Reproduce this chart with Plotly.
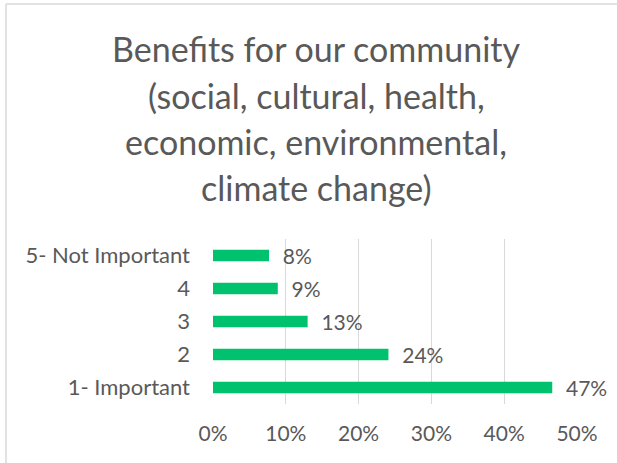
import plotly.graph_objects as go

categories = ["1- Important", "2", "3", "4", "5- Not Important"]
values = [0.466, 0.241, 0.13, 0.089, 0.077]
x_ticks = [0, 0.1, 0.2, 0.3, 0.4, 0.5]
x_tick_labels = ["0%", "10%", "20%", "30%", "40%", "50%"]
title_lines = [
    "Benefits for our community",
    "(social, cultural, health,",
    "economic, environmental,",
    "climate change)",
]

W, H = 617, 463
FONT = "Lato"
GRAY = "#595959"

fig = go.Figure()
fig.add_trace(go.Bar(
    y=categories,
    x=values,
    orientation="h",
    marker=dict(color="#00C16E", line=dict(width=0)),
    width=0.35,
    text=values,
    texttemplate="\u00a0\u00a0%{x:.0%}",
    textposition="outside",
    constraintext="none",
    cliponaxis=False,
    textfont=dict(family=FONT, size=21, color=GRAY),
    hoverinfo="skip",
))

title_y_px = [49, 95, 141, 187]
annotations = []
for line, ypx in zip(title_lines, title_y_px):
    annotations.append(dict(
        text=line, x=316 / W, y=1 - ypx / H, xref="paper", yref="paper",
        xanchor="center", yanchor="middle", showarrow=False,
        font=dict(family=FONT, size=34, color=GRAY),
    ))

fig.update_layout(
    width=W, height=H,
    autosize=False,
    margin=dict(l=0, r=0, t=0, b=0, pad=0, autoexpand=False),
    paper_bgcolor="white", plot_bgcolor="white",
    showlegend=False,
    annotations=annotations,
    shapes=[
        dict(type="line", xref="paper", yref="paper", x0=6 / W, x1=1, y0=1 - 4 / H, y1=1 - 4 / H,
             line=dict(color="#D9D9D9", width=1.5)),
        dict(type="line", xref="paper", yref="paper", x0=6 / W, x1=6 / W, y0=0, y1=1 - 4 / H,
             line=dict(color="#D9D9D9", width=1.5)),
    ],
    xaxis=dict(
        domain=[213 / W, 577 / W],
        range=[0, 0.5],
        tickvals=x_ticks, ticktext=x_tick_labels,
        showgrid=True, gridcolor="#D9D9D9", gridwidth=1.3,
        zeroline=False, showline=False, ticks="",
        tickfont=dict(family=FONT, size=21, color=GRAY),
        ticklabelstandoff=15,
        automargin=False,
        fixedrange=True,
    ),
    yaxis=dict(
        domain=[(H - 404) / H, (H - 239) / H],
        range=[-0.5, 4.5],
        showgrid=False, zeroline=False, showline=False, ticks="",
        tickfont=dict(family=FONT, size=22, color=GRAY),
        ticklabelstandoff=22,
        automargin=False,
        fixedrange=True,
    ),
)

fig.write_html(
    "out.html",
    config={"displayModeBar": False, "responsive": False},
    post_script="document.body.style.margin='0';document.body.style.overflow='hidden';",
)
